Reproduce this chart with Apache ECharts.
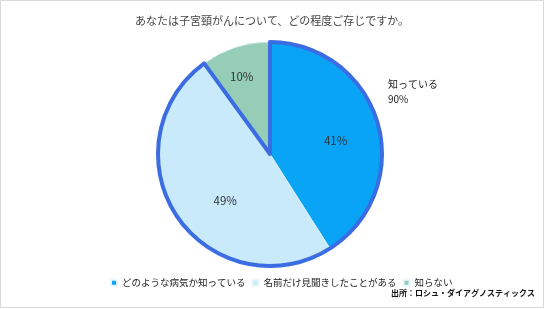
<!DOCTYPE html>
<html><head><meta charset="utf-8">
<script src="https://cdn.jsdelivr.net/npm/echarts@6/dist/echarts.min.js"></script>
<style>html,body{margin:0;padding:0;background:#fff}#c{width:544px;height:309px}</style>
</head><body><div id="c"></div>
<script>
const title = "あなたは子宮頸がんについて、どの程度ご存じですか。";
const categories = ["どのような病気か知っている", "名前だけ見聞きしたことがある", "知らない"];
const values = [41, 49, 10];
const groupLabel = "知っている";
const groupValue = 90;
const source = "出所：ロシュ・ダイアグノスティックス";

const colors = ["#0aa4f6", "#c8eafb", "#95cdb6"];
const labelOffsets = [[9, 3], [4, 13], [-10, -21]];
const FONT = "Noto Sans CJK JP";

const chart = echarts.init(document.getElementById('c'), null, {renderer: 'canvas'});
const center = [270, 154];
const radius = 112;
chart.setOption({
  animation: false,
  textStyle: {fontFamily: FONT},
  title: {text: title, left: 'center', top: 10,
    textStyle: {fontSize: 11, fontWeight: 'normal', color: '#444', fontFamily: FONT}},
  legend: {
    data: categories, top: 273, left: 105, width: 430, itemGap: 6,
    itemWidth: 6, itemHeight: 6, icon: 'rect', orient: 'horizontal',
    textStyle: {fontSize: 9.5, color: '#222', fontFamily: FONT}
  },
  series: [
    {
      type: 'pie', center: center, radius: radius, startAngle: 90, clockwise: true,
      silent: true, legendHoverLink: false,
      data: categories.map((n, i) => ({
        name: n, value: values[i],
        itemStyle: {color: colors[i], borderColor: '#e8f6fd', borderWidth: 0.6},
        label: {offset: labelOffsets[i]}
      })),
      label: {position: 'inner', formatter: p => p.value + '%', fontSize: 11.5, color: '#333', fontFamily: FONT},
      labelLine: {show: false}
    },
    {
      type: 'pie', center: center, radius: radius, startAngle: 90, clockwise: true,
      silent: true, z: 5,
      data: [
        {name: groupLabel, value: groupValue,
         itemStyle: {color: 'rgba(0,0,0,0)', borderColor: '#3b6ce2', borderWidth: 4, borderJoin: 'round'}},
        {name: '_rest', value: 100 - groupValue,
         itemStyle: {color: 'rgba(0,0,0,0)', borderWidth: 0}}
      ],
      label: {show: false}, labelLine: {show: false}
    }
  ],
  graphic: [
    {type: 'rect', shape: {x: 0.5, y: 0.5, width: 543, height: 307},
     style: {fill: 'none', stroke: '#d9d9d9', lineWidth: 1}, silent: true},
    {type: 'text', left: 388, top: 77,
     style: {text: groupLabel + '\n' + groupValue + '%', fontSize: 10, lineHeight: 15, fill: '#222', fontFamily: FONT}},
    {type: 'text', right: 9, top: 289,
     style: {text: source, fontSize: 8, fill: '#111', fontWeight: 'bold', fontFamily: FONT}}
  ]
});
</script></body></html>
